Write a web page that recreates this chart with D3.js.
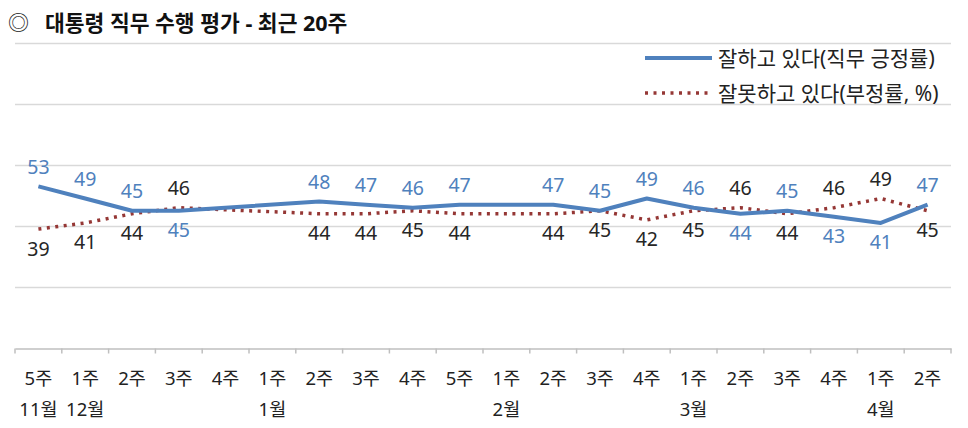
<!DOCTYPE html>
<html><head><meta charset="utf-8">
<script src="https://cdn.jsdelivr.net/npm/d3@7"></script>
<style>
html,body{margin:0;padding:0;background:#fff;}
svg{display:block;font-family:"Noto Sans","Noto Sans CJK KR",sans-serif;}
</style></head>
<body>
<svg id="c" width="968" height="428"></svg>
<script>
const weeks = ["5주","1주","2주","3주","4주","1주","2주","3주","4주","5주","1주","2주","3주","4주","1주","2주","3주","4주","1주","2주"];
const months = ["11월","12월","","","","1월","","","","","2월","","","","3월","","","","4월",""];
const positive = [53,49,45,45,null,null,48,47,46,47,null,47,45,49,46,44,45,43,41,47];
const negative = [39,41,44,46,null,null,44,44,45,44,null,44,45,42,45,46,44,46,49,45];
const gridValues = [20,40,60,80,100];
const legendLabels = ["잘하고 있다(직무 긍정률)","잘못하고 있다(부정률, %)"];
const title = "대통령 직무 수행 평가 - 최근 20주";

const svg = d3.select("#c");
const blue = "#4F81BD", red = "#953735", labelBlue = "#4F81BD", dark = "#262626";
const x = d3.scaleBand().domain(d3.range(weeks.length)).range([15, 951]).padding(0);
const y = d3.scaleLinear().domain([0, 100]).range([348, 43]);
const cx = i => x(i) + x.bandwidth() / 2;

// title
svg.append("text").attr("x", 8).attr("y", 22).attr("dominant-baseline", "central")
  .attr("font-size", 21).attr("fill", "#222").text("◎");
svg.append("text").attr("x", 45).attr("y", 22).attr("dominant-baseline", "central")
  .attr("font-size", 21.5).attr("font-weight", "bold").attr("fill", "#111").text(title);

// grid
svg.append("g").selectAll("line").data(gridValues).join("line")
  .attr("x1", 15).attr("x2", 951)
  .attr("y1", d => Math.round(y(d)) + 0.5).attr("y2", d => Math.round(y(d)) + 0.5)
  .attr("stroke", "#d9d9d9").attr("stroke-width", 1.5);

// x axis
const ax = svg.append("g").attr("transform", `translate(0,${Math.round(y(0)) + 0.5})`);
ax.call(d3.axisBottom(x).tickSize(0).tickFormat(""));
ax.select(".domain").attr("stroke", "#bfbfbf").attr("stroke-width", 1.5);
ax.selectAll(".tick").remove();
const bounds = d3.range(weeks.length + 1).map(i => i < weeks.length ? x(i) : x(weeks.length - 1) + x.bandwidth());
ax.selectAll("line.tk").data(bounds).join("line").attr("class", "tk")
  .attr("x1", d => d).attr("x2", d => d).attr("y1", 0).attr("y2", 5)
  .attr("stroke", "#bfbfbf").attr("stroke-width", 1.5);
svg.append("g").selectAll("text").data(weeks).join("text")
  .attr("x", (d, i) => cx(i)).attr("y", 377).attr("text-anchor", "middle")
  .attr("dominant-baseline", "central").attr("font-size", 18.5).attr("fill", "#222").text(d => d);
svg.append("g").selectAll("text").data(months).join("text")
  .attr("x", (d, i) => cx(i)).attr("y", 408).attr("text-anchor", "middle")
  .attr("dominant-baseline", "central").attr("font-size", 18.5).attr("fill", "#222").text(d => d);

// lines
const posPts = positive.map((v, i) => [i, v]).filter(d => d[1] != null);
const negPts = negative.map((v, i) => [i, v]).filter(d => d[1] != null);
const line = d3.line().x(d => cx(d[0])).y(d => y(d[1]));
svg.append("path").datum(negPts).attr("d", line).attr("fill", "none")
  .attr("stroke", red).attr("stroke-width", 3.5).attr("stroke-dasharray", "3,5.5");
svg.append("path").datum(posPts).attr("d", line).attr("fill", "none")
  .attr("stroke", blue).attr("stroke-width", 4).attr("stroke-linejoin", "round");

// labels
const labels = [];
positive.forEach((v, i) => {
  if (v == null) return;
  const n = negative[i];
  labels.push({i, v, c: labelBlue, up: v >= n});
});
negative.forEach((v, i) => {
  if (v == null) return;
  const p = positive[i];
  labels.push({i, v, c: dark, up: v > p});
});
svg.append("g").selectAll("text").data(labels).join("text")
  .attr("x", d => cx(d.i)).attr("y", d => y(d.v) + (d.up ? -20 : 19))
  .attr("text-anchor", "middle").attr("dominant-baseline", "central")
  .attr("font-size", 19.5).attr("fill", d => d.c).text(d => d.v);

// legend
const lg = svg.append("g");
lg.append("line").attr("x1", 645).attr("x2", 712).attr("y1", 58).attr("y2", 58)
  .attr("stroke", blue).attr("stroke-width", 4);
lg.append("line").attr("x1", 645).attr("x2", 712).attr("y1", 93).attr("y2", 93)
  .attr("stroke", red).attr("stroke-width", 3.5).attr("stroke-dasharray", "3,5.5");
lg.selectAll("text").data(legendLabels).join("text")
  .attr("x", 718).attr("y", (d, i) => 58 + i * 35).attr("dominant-baseline", "central")
  .attr("font-size", 21).attr("fill", "#222").text(d => d);
</script>
</body></html>
